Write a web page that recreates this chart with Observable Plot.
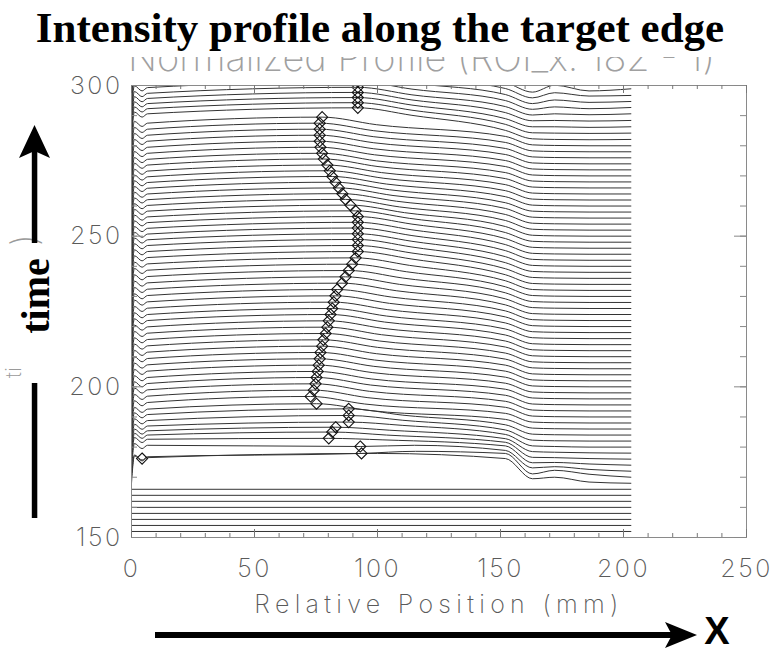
<!DOCTYPE html>
<html>
<head>
<meta charset="utf-8">
<script src="https://cdn.jsdelivr.net/npm/d3@7"></script>
<script src="https://cdn.jsdelivr.net/npm/@observablehq/plot@0.6"></script>
<style>
  html, body { margin: 0; padding: 0; background: #fff; }
  #page { position: relative; width: 775px; height: 653px; overflow: hidden; }
  #chart, #notes { position: absolute; left: 0; top: 0; }
  #notes { pointer-events: none; }
</style>
</head>
<body>
<div id="page">
  <div id="chart"></div>
  <svg id="notes" width="775" height="653" viewBox="0 0 775 653">
    <defs>
      <clipPath id="subtitleClip"><rect x="0" y="57" width="775" height="30"></rect></clipPath>
    </defs>
    <!-- original IDL plot title, mostly covered by the annotation title -->
    <text x="128" y="71" font-family="Inter, 'DejaVu Sans', sans-serif" font-weight="200" font-size="38" fill="#a0a0a0"
          textLength="587" lengthAdjust="spacingAndGlyphs" clip-path="url(#subtitleClip)">Normalized Profile (ROI_x: 182 - 1)</text>
    <text x="380" y="42" text-anchor="middle" font-family="Liberation Serif, 'Times New Roman', serif"
          font-weight="bold" font-size="43" fill="#000">Intensity profile along the target edge</text>

    <!-- remnants of the original y-axis title -->
    <text transform="translate(21,378) rotate(-90)" font-family="Inter, 'DejaVu Sans', sans-serif" font-weight="200"
          font-size="22" fill="#9a9a9a">ti</text>
    <text transform="translate(37,246) rotate(-90)" font-family="Inter, 'DejaVu Sans', sans-serif" font-weight="200"
          font-size="36" fill="#9a9a9a">)</text>

    <!-- time arrow -->
    <path d="M34.5,125 L50,158 L34.5,151 L19,158 Z" fill="#000"></path>
    <rect x="31.8" y="150" width="5.5" height="93" fill="#000"></rect>
    <rect x="31.8" y="383" width="5.5" height="135" fill="#000"></rect>
    <text transform="translate(49,296) rotate(-90)" text-anchor="middle"
          font-family="Liberation Serif, 'Times New Roman', serif" font-weight="bold" font-size="40" fill="#000">time</text>

    <!-- position arrow -->
    <rect x="155" y="632" width="520" height="6" fill="#000"></rect>
    <path d="M697,635 L665,622 L672,635 L665,648 Z" fill="#000"></path>
    <text x="717" y="644" text-anchor="middle" font-family="Liberation Sans, Arial, sans-serif"
          font-weight="bold" font-size="38" fill="#000">X</text>
  </svg>
</div>
<script>
// Rows of the waterfall: each profile is offset by its acquisition time.
const rowTime = [
  168, 170, 172, 174, 176, 178, 180, 182, 184, 186,
  188, 190, 192, 194, 196, 198, 200, 202, 204, 206,
  208, 210, 212, 214, 216, 218, 220, 222, 224, 226,
  228, 230, 232, 234, 236, 238, 240, 242, 244, 246,
  248, 250, 252, 254, 256, 258, 260, 262, 264, 266,
  268, 270, 272, 274, 276, 278, 280, 282, 284, 286,
  288, 290, 292, 294, 296, 298
];

// Detected edge position (mm) for each row.
const edgeX = [
  4.3, 93.5, 93.0, 80.2, 81.6, 83.0, 88.3, 88.3, 88.3, 75.2,
  72.8, 74.1, 74.8, 75.2, 75.7, 76.1, 76.5, 76.8, 77.5, 78.0,
  78.9, 79.6, 80.2, 80.9, 81.6, 82.2, 82.9, 83.6, 85.6, 87.0,
  88.3, 89.7, 91.1, 92.0, 92.0, 92.0, 92.0, 92.0, 92.0, 92.0,
  91.1, 89.0, 87.0, 85.7, 84.3, 82.9, 81.6, 80.6, 79.6, 78.2,
  77.5, 76.8, 76.5, 76.5, 76.5, 76.5, 77.5, 92.0, 92.0, 92.0,
  92.0, 92.0, 92.0, 92.0, 92.0, 92.0
];

// Normalized intensity at the detected edge.
const edgeLevel = [
  8.2, 7.9, 8.2, 8.9, 9.0, 8.6, 8.3, 8.5, 8.7, 8.4,
  8.8, 8.9, 9.0, 9.1, 9.1, 9.2, 9.3, 9.4, 9.5, 9.6,
  9.7, 9.8, 9.9, 10.0, 10.0, 10.1, 10.2, 10.3, 10.4, 10.5,
  10.6, 10.7, 10.8, 10.9, 10.9, 10.9, 10.8, 10.7, 10.6, 10.5,
  10.4, 10.3, 10.2, 10.1, 10.0, 9.9, 9.8, 9.7, 9.6, 9.6,
  9.5, 9.5, 9.5, 9.5, 9.5, 9.5, 9.5, 10.6, 10.3, 10.0,
  9.7, 9.4, 9.3, 9.3, 9.2, 9.2
];

// Intensity just right of the entrance notch (x = 6.5 mm).
const leftLevel = [
  8.5, 6.8, 8.6, 8.6, 8.0, 7.4, 7.0, 6.8, 6.8, 6.6,
  6.8, 6.9, 7.0, 7.1, 7.1, 7.2, 7.3, 7.4, 7.5, 7.6,
  7.7, 7.8, 7.9, 8.0, 8.0, 8.1, 8.2, 8.3, 8.4, 8.5,
  8.6, 8.7, 8.8, 8.9, 8.9, 8.9, 8.8, 8.7, 8.6, 8.5,
  8.4, 8.3, 8.2, 8.1, 8.0, 7.9, 7.8, 7.7, 7.6, 7.6,
  7.5, 7.5, 7.5, 7.5, 7.5, 7.5, 7.5, 8.6, 8.3, 8.0,
  7.7, 7.4, 7.3, 7.3, 7.2, 7.2
];

// Intensity on the falling shoulder, 22 mm past the edge.
const shoulderLevel = [
  9.9, 8.6, 8.6, 8.4, 8.0, 7.6, 7.2, 6.9, 6.6, 6.1,
  6.3, 6.4, 6.5, 6.6, 6.6, 6.7, 6.8, 6.9, 7.0, 7.1,
  7.2, 7.3, 7.4, 7.5, 7.5, 7.6, 7.7, 7.8, 7.9, 8.0,
  8.1, 8.2, 8.3, 8.4, 8.4, 8.4, 8.3, 8.2, 8.1, 8.0,
  7.9, 7.8, 7.7, 7.6, 7.5, 7.4, 7.3, 7.2, 7.1, 7.1,
  7.0, 7.0, 7.0, 7.0, 7.0, 7.0, 7.0, 8.1, 7.8, 7.5,
  7.2, 6.9, 6.8, 6.8, 6.7, 6.7
];

// Intensity before (152 mm) and after (163 mm) the far step.
const preStepLevel = [
  8.2, 7.9, 6.9, 6.4, 5.6, 4.8, 4.2, 3.7, 3.4, 3.2,
  3.2, 3.2, 3.2, 3.2, 3.2, 3.2, 3.2, 3.2, 3.2, 3.2,
  3.2, 3.2, 3.2, 3.2, 3.2, 3.2, 3.2, 3.2, 3.2, 3.2,
  3.2, 3.2, 3.2, 3.2, 3.2, 3.2, 3.2, 3.2, 3.2, 3.2,
  3.2, 3.2, 3.2, 3.2, 3.2, 3.1, 3.1, 3.1, 3.1, 3.1,
  3.1, 3.1, 3.1, 3.1, 3.1, 3.1, 3.1, 3.1, 3.1, 3.0,
  3.0, 3.0, 3.0, 3.0, 3.0, 3.0
];
const postStepLevel = [
  1.5, 1.1, 1.1, 0.8, 0.6, 0.5, 0.4, 0.3, 0.3, 0.3,
  0.3, 0.3, 0.3, 0.3, 0.3, 0.3, 0.3, 0.3, 0.3, 0.3,
  0.3, 0.3, 0.3, 0.3, 0.3, 0.3, 0.3, 0.3, 0.3, 0.3,
  0.3, 0.3, 0.3, 0.3, 0.3, 0.3, 0.3, 0.3, 0.3, 0.3,
  0.3, 0.3, 0.3, 0.3, 0.3, 0.3, 0.3, 0.3, 0.3, 0.3,
  0.3, 0.3, 0.3, 0.3, 0.3, 0.3, 0.3, 0.3, 0.3, 0.3,
  0.3, 0.2, 0.1, 0.0, -0.1, -0.2
];

// Ripple on the flat tail (172 mm and 186 mm) and the value at the profile end (203 mm).
const rippleA = [
  2.0, 2.3, 1.5, 0.9, 0.5, 0.3, 0.2, 0.1, 0.1, 0.1,
  0.1, 0.1, 0.1, 0.1, 0.1, 0.1, 0.1, 0.1, 0.1, 0.1,
  0.1, 0.1, 0.1, 0.1, 0.1, 0.1, 0.1, 0.1, 0.1, 0.1,
  0.1, 0.1, 0.1, 0.1, 0.1, 0.1, 0.1, 0.1, 0.1, 0.1,
  0.1, 0.1, 0.1, 0.1, 0.1, 0.1, 0.1, 0.1, 0.1, 0.1,
  0.1, 0.1, 0.1, 0.1, 0.1, 0.1, 0.1, 0.1, 0.2, 0.3,
  0.4, 0.6, 0.9, 1.2, 1.6, 2.1
];
const rippleB = [
  0.4, 1.0, 0.6, 0.4, 0.2, 0.1, 0.0, 0.0, 0.0, 0.0,
  0.0, 0.0, 0.0, 0.0, 0.0, 0.0, 0.0, 0.0, 0.0, 0.0,
  0.0, 0.0, 0.0, 0.0, 0.0, 0.0, 0.0, 0.0, 0.0, 0.0,
  0.0, 0.0, 0.0, 0.0, 0.0, 0.0, 0.0, 0.0, 0.0, 0.0,
  0.0, 0.0, 0.0, 0.0, 0.0, 0.0, 0.0, 0.0, 0.0, 0.0,
  0.0, 0.0, 0.0, 0.0, 0.0, 0.0, 0.0, 0.0, 0.1, 0.1,
  0.2, 0.3, 0.3, 0.4, 0.5, 0.2
];
const endLevel = [
  0.0, 0.0, 0.0, 0.0, 0.0, 0.0, 0.0, 0.0, 0.0, 0.0,
  0.0, 0.0, 0.0, 0.0, 0.0, 0.0, 0.0, 0.0, 0.0, 0.0,
  0.0, 0.0, 0.0, 0.0, 0.0, 0.0, 0.0, 0.0, 0.0, 0.0,
  0.0, 0.0, 0.0, 0.0, 0.0, 0.0, 0.0, 0.0, 0.0, 0.0,
  0.0, 0.0, 0.0, 0.0, 0.0, 0.0, 0.0, 0.0, 0.0, 0.0,
  0.0, 0.0, 0.0, 0.0, 0.0, 0.0, 0.0, 0.1, 0.2, 0.3,
  0.4, 0.6, 0.7, 0.7, 0.7, 0.9
];

// Rows recorded before the target appeared: flat, zero-signal profiles.
const emptyRows = [150, 152, 154, 156, 158, 160, 162, 164, 166];

// Sample positions (mm) along each profile.
const profileExtent = [0, 203];
const sampleMM = { start: 0, rise: 1.2, notch: 4.3, settle: 6.5, mid: 100,
                   preStep: 152, postStep: 163, rippleA: 172, rippleB: 186, end: 203 };
const notchRise = 0.6;     // small overshoot after the entrance jump
const notchDepth = 1.1;    // depth of the entrance notch
const shoulderSpan = 22;   // mm from the edge to the shoulder sample

// Axis ticks and labels
const xTickLabels = [0, 50, 100, 150, 200, 250];
const xMinorTicks = [0, 10, 20, 30, 40, 50, 60, 70, 80, 90, 100, 110, 120, 130, 140, 150,
                     160, 170, 180, 190, 200, 210, 220, 230, 240, 250];
const yTickLabels = [150, 200, 250, 300];
const yMinorTicks = [150, 160, 170, 180, 190, 200, 210, 220, 230, 240, 250, 260, 270, 280, 290, 300];
const xTitle = "Relative Position (mm)";

// Build the stacked profiles from the sampled levels.
const profilePoints = rowTime.flatMap((t, i) => {
  const knots = [
    [sampleMM.start, 0],
    [sampleMM.rise, leftLevel[i] + notchRise],
    [sampleMM.notch, leftLevel[i] - notchDepth],
    [sampleMM.settle, leftLevel[i]]
  ];
  if (edgeX[i] > sampleMM.settle) {
    knots.push([edgeX[i], edgeLevel[i]], [edgeX[i] + shoulderSpan, shoulderLevel[i]]);
  } else {
    knots.push([sampleMM.mid, shoulderLevel[i]]);
  }
  knots.push(
    [sampleMM.preStep, preStepLevel[i]],
    [sampleMM.postStep, postStepLevel[i]],
    [sampleMM.rippleA, rippleA[i]],
    [sampleMM.rippleB, rippleB[i]],
    [sampleMM.end, endLevel[i]]
  );
  return knots.map(([x, v]) => ({ row: t, x, y: t + v }));
});

const emptyPoints = emptyRows.flatMap(t => profileExtent.map(x => ({ row: t, x, y: t })));
const edgePoints = rowTime.map((t, i) => ({ x: edgeX[i], y: t + edgeLevel[i] }));

const frameH = 653 - 85 - 116;
const frameW = 775 - 131 - 29;
const labelFont = { fontFamily: "Inter, 'DejaVu Sans', sans-serif", fontWeight: 200, fill: "#5a5a5a" };

const chart = Plot.plot({
  width: 775,
  height: 653,
  marginLeft: 131,
  marginRight: 29,
  marginTop: 85,
  marginBottom: 116,
  x: { domain: [0, 250], axis: null },
  y: { domain: [150, 300], axis: null },
  style: { background: "transparent", overflow: "visible" },
  marks: [
    Plot.line(emptyPoints, { x: "x", y: "y", z: "row", stroke: "#333", strokeWidth: 1, clip: true }),
    Plot.line(profilePoints, { x: "x", y: "y", z: "row", curve: "monotone-x", stroke: "#333", strokeWidth: 1, clip: true }),
    Plot.dot(edgePoints, { x: "x", y: "y", symbol: "diamond2", r: 5, stroke: "#111", fill: "none", strokeWidth: 1.1, clip: true }),
    Plot.frame({ stroke: "#8a8a8a" }),
    // inward ticks on all four sides
    Plot.ruleX(xMinorTicks, { x: d => d, stroke: "#777", insetTop: frameH - 4 }),
    Plot.ruleX(xTickLabels, { x: d => d, stroke: "#777", insetTop: frameH - 8 }),
    Plot.ruleX(xMinorTicks, { x: d => d, stroke: "#777", insetBottom: frameH - 4 }),
    Plot.ruleX(xTickLabels, { x: d => d, stroke: "#777", insetBottom: frameH - 8 }),
    Plot.ruleY(yMinorTicks, { y: d => d, stroke: "#888", insetRight: frameW - 6 }),
    Plot.ruleY(yTickLabels, { y: d => d, stroke: "#888", insetRight: frameW - 12 }),
    Plot.ruleY(yMinorTicks, { y: d => d, stroke: "#888", insetLeft: frameW - 6 }),
    Plot.ruleY(yTickLabels, { y: d => d, stroke: "#888", insetLeft: frameW - 12 }),
    // tick labels and axis title
    Plot.text(xTickLabels, { x: d => d, text: d => String(d), frameAnchor: "bottom", dy: 39,
                             fontSize: 25, ...labelFont }),
    Plot.text(yTickLabels, { y: d => d, text: d => String(d), frameAnchor: "left", dx: -9,
                             textAnchor: "end", fontSize: 25, ...labelFont }),
    Plot.text([xTitle], { text: d => d, frameAnchor: "bottom", dy: 75, fontSize: 25, ...labelFont })
  ]
});

document.getElementById("chart").appendChild(chart);

// The axis title and tick numbers use the wide spacing of the plotting font.
chart.querySelectorAll("text").forEach(node => {
  if (node.textContent === xTitle) node.setAttribute("letter-spacing", "5.3");
  else if (/^\d+$/.test(node.textContent)) node.setAttribute("letter-spacing", "2.5");
});
</script>
</body>
</html>
